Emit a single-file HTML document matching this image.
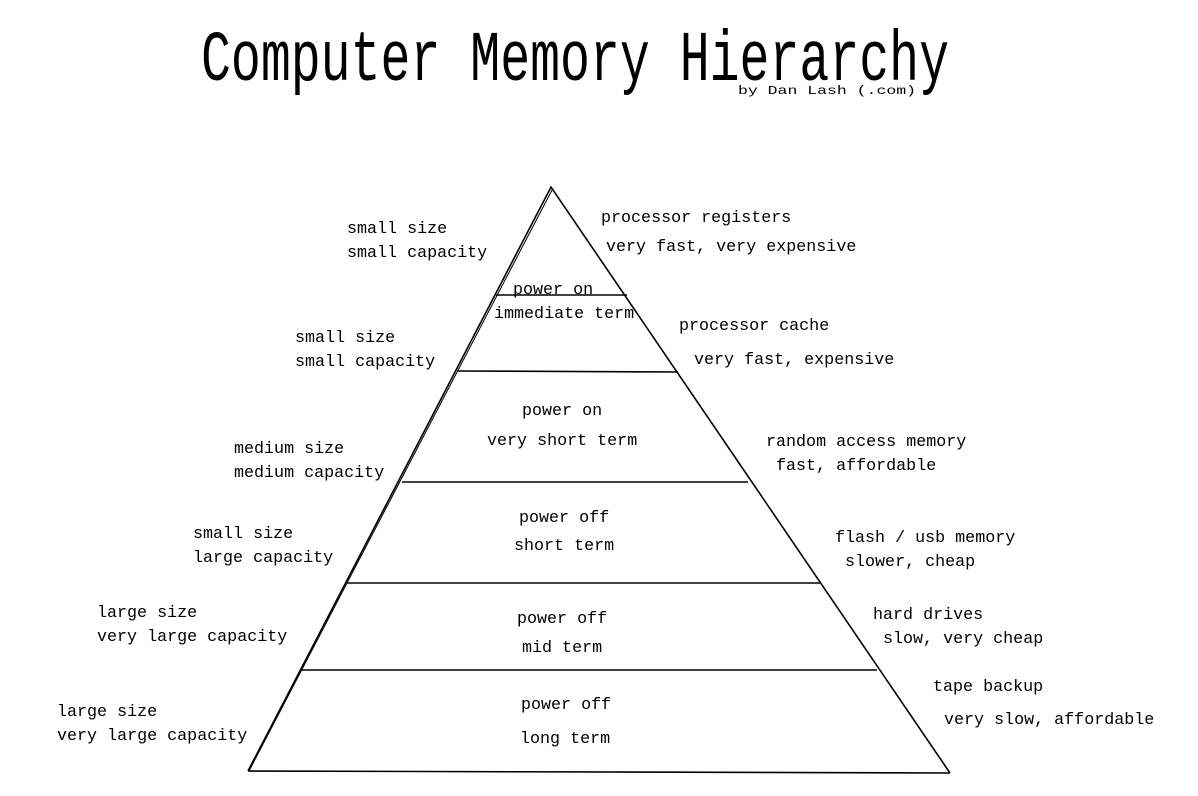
<!DOCTYPE html>
<html><head><meta charset="utf-8"><style>
html,body{margin:0;padding:0;background:#fff;}
svg{display:block;}
text{font-family:"Liberation Mono",monospace;fill:#000;}
.t{font-size:16.7px;}
</style></head><body>
<svg width="1198" height="796" viewBox="0 0 1198 796">
<rect width="1198" height="796" fill="#fff"/>
<g transform="translate(201,80) scale(1,1.42)">
<text x="0" y="0" font-size="50" textLength="748" lengthAdjust="spacingAndGlyphs">Computer Memory Hierarchy</text>
</g>
<text x="738" y="94" font-size="12" textLength="178" lengthAdjust="spacingAndGlyphs">by Dan Lash (.com)</text>
<g stroke="#000" stroke-width="1.6" fill="none">
<polyline points="248,771 551,187 950,773"/>
<line x1="552" y1="190" x2="249" y2="771" stroke-width="1"/>
<line x1="248" y1="771" x2="950" y2="773"/>
<line x1="496" y1="295" x2="627" y2="295"/>
<line x1="457" y1="371" x2="678" y2="372"/>
<line x1="402" y1="482" x2="748" y2="482"/>
<line x1="347" y1="583" x2="820" y2="583"/>
<line x1="302" y1="670" x2="877" y2="670"/>
</g>
<g class="t">
<text x="347" y="233">small size</text>
<text x="347" y="257">small capacity</text>
<text x="295" y="342">small size</text>
<text x="295" y="366">small capacity</text>
<text x="234" y="453">medium size</text>
<text x="234" y="477">medium capacity</text>
<text x="193" y="538">small size</text>
<text x="193" y="562">large capacity</text>
<text x="97" y="617">large size</text>
<text x="97" y="641">very large capacity</text>
<text x="57" y="716">large size</text>
<text x="57" y="740">very large capacity</text>

<text x="513" y="294">power on</text>
<text x="494" y="318">immediate term</text>
<text x="522" y="415">power on</text>
<text x="487" y="445">very short term</text>
<text x="519" y="522">power off</text>
<text x="514" y="550">short term</text>
<text x="517" y="623">power off</text>
<text x="522" y="652">mid term</text>
<text x="521" y="709">power off</text>
<text x="520" y="743">long term</text>

<text x="601" y="222">processor registers</text>
<text x="606" y="251">very fast, very expensive</text>
<text x="679" y="330">processor cache</text>
<text x="694" y="364">very fast, expensive</text>
<text x="766" y="446">random access memory</text>
<text x="776" y="470">fast, affordable</text>
<text x="835" y="542">flash / usb memory</text>
<text x="845" y="566">slower, cheap</text>
<text x="873" y="619">hard drives</text>
<text x="883" y="643">slow, very cheap</text>
<text x="933" y="691">tape backup</text>
<text x="944" y="724">very slow, affordable</text>
</g>
</svg>
</body></html>
